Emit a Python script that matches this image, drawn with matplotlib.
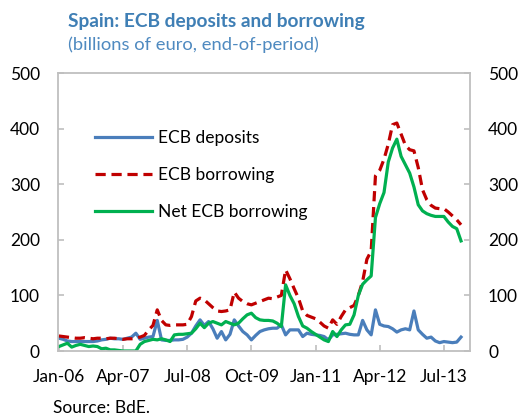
import matplotlib
matplotlib.use("Agg")
import matplotlib.pyplot as plt

# Monthly data, Jan-2006 .. Nov-2013 (billions of euro)
deposits = ([23, 21, 18, 17, 17, 17, 17, 17, 17, 18, 20, 21] +
            [23, 22, 22, 21, 23, 25, 32, 21, 23, 25, 26, 55] +
            [20, 19, 19, 20, 20, 21, 25, 32, 45, 56, 46, 53] +
            [40, 23, 35, 20, 30, 56, 45, 35, 29, 20, 28, 35] +
            [38, 40, 41, 41, 47, 29, 38, 38, 38, 26, 32, 30] +
            [29, 28, 26, 20, 29, 30, 31, 32, 30, 29, 29, 55] +
            [38, 29, 74, 48, 45, 44, 40, 34, 38, 40, 38, 72] +
            [38, 30, 23, 25, 18, 15, 17, 16, 15, 16, 25])
borrowing = ([27, 26, 25, 24, 23, 23, 24, 23, 22, 23, 23, 22] +
             [23, 23, 22, 21, 22, 22, 23, 25, 28, 38, 46, 74] +
             [55, 47, 46, 47, 47, 47, 48, 62, 90, 95, 92, 85] +
             [78, 72, 71, 72, 74, 106, 95, 89, 85, 83, 86, 89] +
             [92, 95, 94, 97, 100, 146, 130, 112, 95, 72, 64, 61] +
             [58, 52, 45, 41, 56, 48, 62, 74, 78, 82, 100, 125] +
             [165, 180, 315, 325, 345, 372, 407, 410, 390, 370, 362, 360] +
             [330, 290, 272, 262, 257, 256, 256, 250, 243, 236, 227])
net = ([8, 11, 14, 7, 10, 12, 10, 8, 9, 8, 4, 5] +
       [2, 2, 1, 0, 0, 0, 0, 12, 17, 19, 21, 20] +
       [22, 20, 17, 29, 30, 30, 31, 32, 40, 50, 42, 50] +
       [53, 50, 47, 53, 50, 47, 50, 58, 65, 68, 60, 56] +
       [55, 55, 54, 50, 44, 119, 100, 85, 62, 45, 41, 35] +
       [30, 25, 20, 17, 35, 26, 38, 47, 48, 65, 100, 120] +
       [128, 135, 240, 265, 285, 340, 365, 381, 350, 335, 320, 295] +
       [263, 252, 247, 244, 242, 242, 242, 232, 224, 220, 198])
tick_labels = ["Jan-06", "Apr-07", "Jul-08", "Oct-09", "Jan-11", "Apr-12", "Jul-13"]
tick_pos = [0, 15, 30, 45, 60, 75, 90]
yticks = [0, 100, 200, 300, 400, 500]

plt.rcParams['font.family'] = ['Lato', 'DejaVu Sans']

W, H = 524, 418
fig = plt.figure(figsize=(W/100, H/100), dpi=100)
ax = fig.add_axes([58/W, 1-351/H, (470-58)/W, (351-73)/H])

x = list(range(len(deposits)))
ax.plot(x, deposits, color='#4A7EBB', lw=2.3, label='ECB deposits', solid_joinstyle='round')
ax.plot(x, borrowing, color='#C00000', lw=2.3, ls=(0, (3.2, 1.8)), label='ECB borrowing')
ax.plot(x, net, color='#00B050', lw=2.3, label='Net ECB borrowing', solid_joinstyle='round')

ax.set_xlim(-0.2, 96.1)
ax.set_ylim(0, 500)
ax.set_yticks(yticks)
ax.set_xticks(tick_pos)
ax.set_xticklabels(tick_labels)

for s in ax.spines.values():
    s.set_color('#BFBFBF')
    s.set_linewidth(1.3)

ax.tick_params(axis='x', direction='in', length=4, color='#BFBFBF', width=1.2,
               labelsize=12.5, pad=13, labelcolor='black')
ax.tick_params(axis='y', direction='in', length=4, color='#BFBFBF', width=1.2,
               labelsize=12.5, pad=13, left=True, right=True,
               labelleft=True, labelright=True, labelcolor='black')

leg = ax.legend(loc='upper left', bbox_to_anchor=(95/W, 1-130/H),
                bbox_transform=fig.transFigure, frameon=False, fontsize=12.5,
                handlelength=3.3, handletextpad=0.35, labelspacing=1.2,
                borderpad=0, borderaxespad=0)

fig.text(68/W, 1-22/H, "Spain: ECB deposits and borrowing", color='#3F7FB5',
         fontsize=13.8, fontweight='bold', va='center', ha='left')
fig.text(68/W, 1-45/H, "(billions of euro, end-of-period)", color='#4F8AC0',
         fontsize=13.2, va='center', ha='left')
fig.text(53/W, 1-408/H, "Source: BdE.", color='black', fontsize=12.5,
         va='center', ha='left')

fig.savefig('out.png', dpi=100)
